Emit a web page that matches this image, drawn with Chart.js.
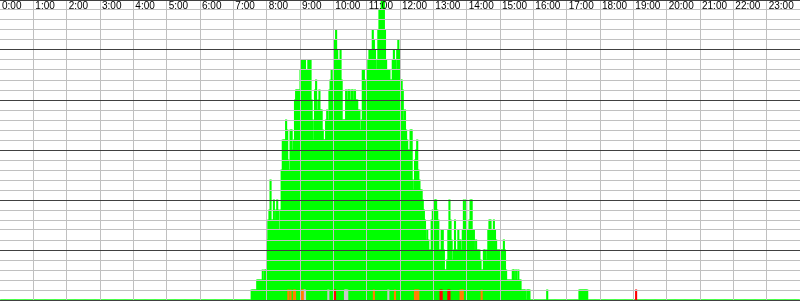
<!DOCTYPE html>
<html>
<head>
<meta charset="utf-8">
<title>Requests per minute</title>
<script src="https://cdn.jsdelivr.net/npm/chart.js@4.4.0/dist/chart.umd.min.js"></script>
<style>
  html, body { margin: 0; padding: 0; background: #fff; }
</style>
</head>
<body>
<canvas id="chart" width="800" height="301"></canvas>
<script>
'use strict';
// counts per 2 minute bucket
let binMinutes = 2;
let okFrom = 450; // 7:30 = first bucket of okCounts
let okCounts = [
  0, 1, 1, 1, 1, 1, 2, 2, 2,
  2, 2, 3, 2, 3, 3, 6, 8, 9,
  12, 8, 8, 10, 8, 9, 10, 9, 7,
  9, 13, 16, 16, 16, 18, 17, 14, 13,
  17, 17, 15, 16, 20, 21, 21, 21, 21,
  23, 24, 24, 24, 24, 23, 23, 24, 24,
  24, 20, 18, 16, 21, 22, 19, 20, 21,
  19, 19, 17, 16, 16, 18, 19, 18, 21,
  22, 23, 22, 21, 26, 27, 25, 24, 24,
  25, 22, 18, 18, 18, 21, 20, 21, 21,
  20, 21, 21, 20, 21, 20, 20, 19, 19,
  17, 18, 23, 23, 21, 22, 23, 24, 25,
  25, 25, 27, 26, 25, 23, 24, 27, 29,
  29, 30, 30, 30, 27, 24, 23, 23, 23,
  22, 22, 24, 25, 24, 23, 25, 26, 25,
  22, 22, 21, 18, 19, 17, 16, 15, 15,
  17, 17, 12, 11, 14, 15, 16, 13, 12,
  11, 11, 10, 9, 8, 6, 7, 6, 5,
  5, 8, 9, 9, 10, 10, 9, 8, 5,
  5, 7, 7, 5, 3, 3, 4, 7, 10,
  8, 6, 4, 5, 8, 5, 5, 7, 6,
  6, 5, 7, 10, 8, 10, 7, 7, 8,
  10, 10, 7, 7, 5, 6, 5, 5, 5,
  4, 3, 3, 5, 5, 4, 5, 7, 8,
  8, 7, 7, 8, 7, 6, 5, 5, 5,
  5, 5, 5, 6, 5, 3, 2, 2, 2,
  2, 2, 3, 3, 2, 3, 2, 3, 2,
  2, 1, 1, 1, 1, 0, 1, 1, 1,
  0, 0, 0, 0, 0, 0, 0, 0, 0,
  0, 0, 0, 0, 0, 0, 1, 0, 0,
  0, 0, 0, 0, 0, 0, 0, 0, 0,
  0, 0, 0, 0, 0, 0, 0, 0, 0,
  0, 0, 0, 0, 0, 0, 0, 0, 1,
  1, 1, 1, 1, 1, 1, 1
];
// minute of day of the single coloured marks in the bottom row
let warnMinutes = [518, 522, 528, 530, 542, 544, 672, 710, 746, 748, 750, 752, 828, 830, 832, 866];
let errorMinutes = [602, 792, 794, 806, 808, 1144];
let unknownMinutes = [546, 548, 590, 620, 622, 624, 698];
let hourLabels = ['0:00', '1:00', '2:00', '3:00', '4:00', '5:00', '6:00', '7:00', '8:00', '9:00',
  '10:00', '11:00', '12:00', '13:00', '14:00', '15:00', '16:00', '17:00', '18:00', '19:00',
  '20:00', '21:00', '22:00', '23:00'];

let binCount = 24 * 60 / binMinutes;
let labels = [];
let okData = [];
for (let i = 0; i < binCount; i++) {
  let m = i * binMinutes;
  labels.push(Math.floor(m / 60) + ':' + String(m % 60).padStart(2, '0'));
  okData.push(0);
}
okCounts.forEach((c, i) => {
  okData[okFrom / binMinutes + i] = c;
});
function marks(minutes) {
  let arr = new Array(binCount).fill(null);
  minutes.forEach(m => {
    arr[m / binMinutes] = 1;
  });
  return arr;
}

let labelFont = {
  family: '"Liberation Sans", Arial, sans-serif',
  size: 10
};

function hourLineColor(c) {
  if (!c.tick) return 'rgba(0,0,0,0)';
  return (c.tick.value > 0 && c.tick.value < 24) ? '#c0c0c0' : 'rgba(0,0,0,0)';
}
function rowLineColor(c) {
  if (!c.tick) return 'rgba(0,0,0,0)';
  return c.tick.value % 5 === 0 ? '#404040' : '#c0c0c0';
}

let chartObj = document.getElementById('chart').getContext('2d');
let chart = new Chart(chartObj, {
  type: 'bar',
  data: {
    labels: labels,
    datasets: [{
      label: 'Error',
      data: marks(errorMinutes),
      backgroundColor: '#ff0000',
      grouped: false
    }, {
      label: 'Warning',
      data: marks(warnMinutes),
      backgroundColor: '#ff8000',
      grouped: false
    }, {
      label: 'Unknown',
      data: marks(unknownMinutes),
      backgroundColor: '#c8c8c8',
      grouped: false
    }, {
      label: 'OK',
      data: okData,
      backgroundColor: '#00ff00',
      grouped: false
    }]
  },
  options: {
    responsive: false,
    animation: false,
    layout: { padding: { top: 0, left: 0, right: 0, bottom: 1 } },
    datasets: {
      bar: { barPercentage: 1, categoryPercentage: 1, borderWidth: 0, inflateAmount: 0.5 }
    },
    plugins: {
      legend: { display: false },
      tooltip: { enabled: false }
    },
    scales: {
      x: { display: false },
      hours: {
        type: 'linear',
        axis: 'x',
        position: 'top',
        min: 0,
        max: 24,
        offset: false,
        z: 1,
        afterFit: scale => {
          scale.height = 0;
          scale.paddingLeft = 0;
          scale.paddingRight = 0;
        },
        grid: {
          z: 1,
          offset: false,
          drawTicks: false,
          color: hourLineColor
        },
        border: { display: false },
        ticks: {
          z: 1,
          stepSize: 1,
          autoSkip: false,
          maxRotation: 0,
          mirror: true,
          padding: 0,
          align: 'start',
          labelOffset: 2,
          color: '#000',
          font: labelFont,
          callback: v => hourLabels[v] || ''
        }
      },
      y: {
        min: 0,
        max: 30,
        z: 1,
        afterFit: scale => { scale.width = 0; },
        grid: {
          z: 1,
          drawTicks: false,
          color: rowLineColor
        },
        border: { display: false },
        ticks: { stepSize: 1, display: false }
      }
    }
  }
});
</script>
</body>
</html>
